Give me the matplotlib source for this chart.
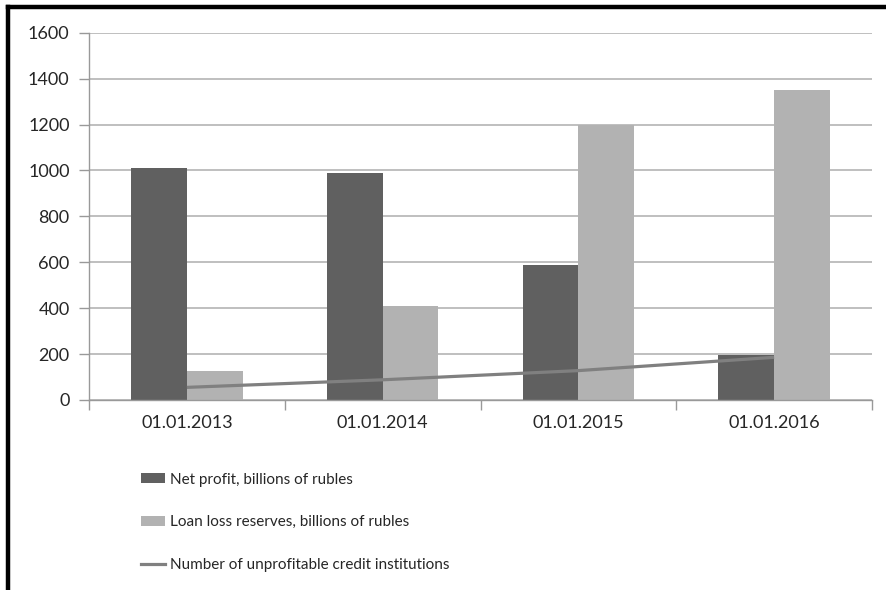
import matplotlib.pyplot as plt
from matplotlib.lines import Line2D
from matplotlib.patches import Patch
import numpy as np

categories = ['01.01.2013', '01.01.2014', '01.01.2015', '01.01.2016']
net_profit = [1010, 990, 590, 195]
loan_reserves = [125, 410, 1200, 1350]
unprofitable = [55, 88, 128, 186]

DARK = '#606060'
LIGHT = '#b2b2b2'
LINE = '#808080'
GRID = '#b4b4b4'
TEXT = '#262626'

plt.rcParams['font.family'] = ['Lato', 'DejaVu Sans']

fig = plt.figure(figsize=(8.86, 5.9), dpi=100)
ax = fig.add_axes([89 / 886, 1 - 400 / 590, (872 - 89) / 886, (400 - 32.7) / 590])

x = np.arange(len(categories))
w = 0.285
ax.bar(x - w, net_profit, width=w, align='edge', color=DARK, zorder=2)
ax.bar(x, loan_reserves, width=w, align='edge', color=LIGHT, zorder=2)
ax.plot(x, unprofitable, color=LINE, lw=2.3, solid_capstyle='butt', zorder=3)

ax.set_xlim(-0.5, len(categories) - 0.5)
ax.set_ylim(0, 1600)
ax.set_yticks(range(0, 1601, 200))
ax.yaxis.grid(True, color=GRID, lw=1.2, zorder=0)
ax.set_axisbelow(True)

ax.set_xticks(x)
ax.set_xticklabels(categories)
ax.set_xticks(np.arange(-0.5, len(categories), 1.0), minor=True)
ax.tick_params(axis='x', which='major', length=0, pad=11, labelsize=13, labelcolor=TEXT)
ax.tick_params(axis='x', which='minor', length=7, width=1, color='#999999', direction='out')
ax.tick_params(axis='y', length=7, width=1, color='#999999', pad=7, labelsize=13, labelcolor=TEXT)

for s in ['top', 'right']:
    ax.spines[s].set_visible(False)
ax.spines['left'].set_color('#999999')
ax.spines['bottom'].set_color('#999999')
ax.spines['left'].set_linewidth(1)
ax.spines['bottom'].set_linewidth(1)

handles = [
    Patch(facecolor=DARK, edgecolor='none'),
    Patch(facecolor=LIGHT, edgecolor='none'),
    Line2D([], [], color=LINE, lw=2.3),
]
labels = ['Net profit, billions of rubles',
          'Loan loss reserves, billions of rubles',
          'Number of unprofitable credit institutions']
leg = fig.legend(handles, labels, loc='upper left', bbox_to_anchor=(127 / 886, 1 - 459 / 590),
                 frameon=False, handlelength=1.6, handleheight=0.65, handletextpad=0.3,
                 labelspacing=1.87, prop={'family': ['Lato', 'DejaVu Sans'], 'size': 11})
for t in leg.get_texts():
    t.set_color(TEXT)

# black frame on the left and top
fig.add_artist(Line2D([8 / 886, 8 / 886], [0, 1 - 7 / 590], color='black', lw=3.2,
                      transform=fig.transFigure, solid_capstyle='projecting'))
fig.add_artist(Line2D([8 / 886, 1], [1 - 7 / 590, 1 - 7 / 590], color='black', lw=3.2,
                      transform=fig.transFigure, solid_capstyle='projecting'))

fig.savefig('out.png', dpi=100)
